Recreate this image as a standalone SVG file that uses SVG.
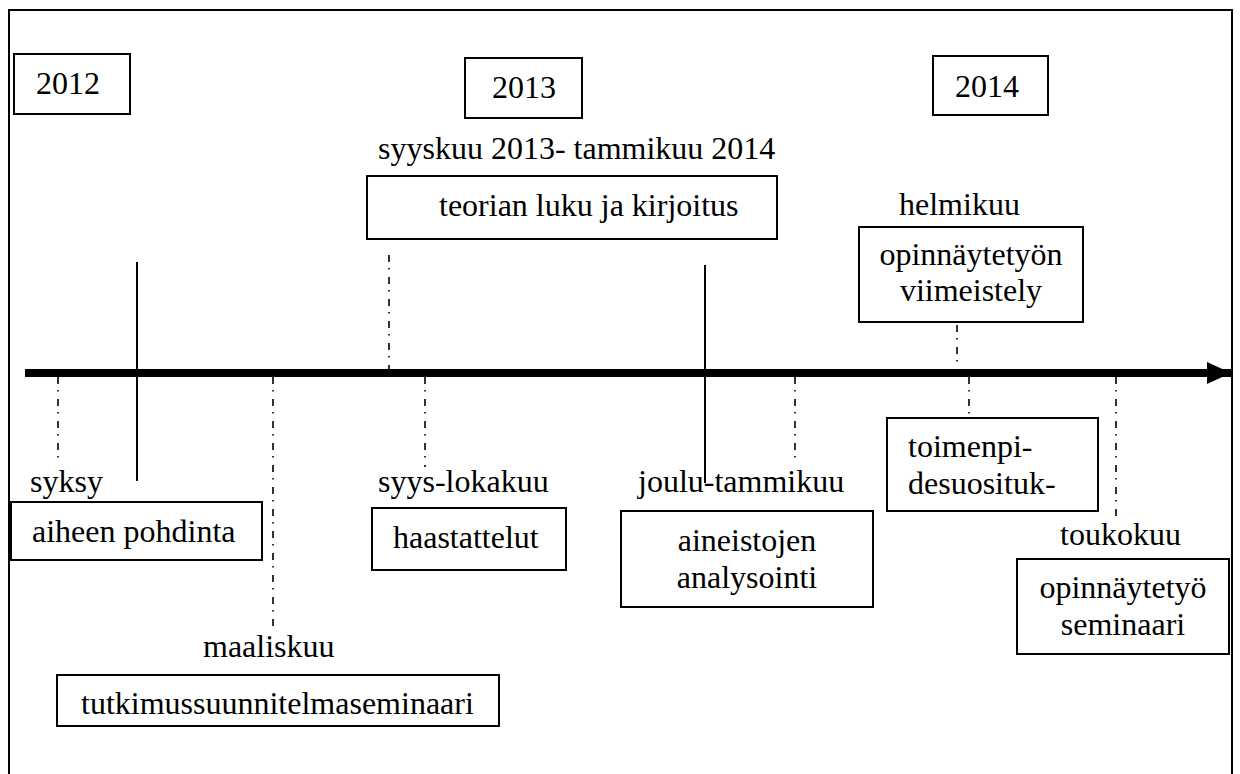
<svg xmlns="http://www.w3.org/2000/svg" width="1240" height="774" viewBox="0 0 1240 774">
  <style>
    text { font-family: "Liberation Serif", "Times New Roman", serif; font-size: 32px; fill: #000; }
    .box { fill: #fff; stroke: #000; stroke-width: 2; }
    .dd { stroke: #000; stroke-width: 1.6; fill: none; stroke-dasharray: 7 6 1.5 7.5; }
    .solid { stroke: #000; stroke-width: 2; fill: none; }
    .mid { text-anchor: middle; }
  </style>
  <defs>
    <marker id="head" markerUnits="userSpaceOnUse" markerWidth="26" markerHeight="24" refX="24" refY="11" orient="auto">
      <path d="M0,0 L24,11 L0,22 Z" fill="#000"/>
    </marker>
  </defs>

  <rect width="1240" height="774" fill="#fff"/>
  <!-- outer frame -->
  <rect x="9" y="10" width="1223" height="790" fill="none" stroke="#000" stroke-width="2"/>

  <!-- connectors: time axis and tick lines -->
  <g id="connectors">
    <line x1="25" y1="373" x2="1231" y2="373" stroke="#000" stroke-width="8" marker-end="url(#head)"/>
    <line class="solid" x1="137" y1="262" x2="137" y2="481"/>
    <line class="solid" x1="705" y1="265" x2="705" y2="483"/>
    <line class="dd" x1="58" y1="377" x2="58" y2="458"/>
    <line class="dd" x1="273" y1="377" x2="273" y2="630"/>
    <line class="dd" x1="389" y1="255" x2="389" y2="369"/>
    <line class="dd" x1="425" y1="377" x2="425" y2="467"/>
    <line class="dd" x1="795" y1="377" x2="795" y2="463"/>
    <line class="dd" x1="957" y1="325" x2="957" y2="366"/>
    <line class="dd" x1="969" y1="377" x2="969" y2="418"/>
    <line class="dd" x1="1116" y1="377" x2="1116" y2="517"/>
  </g>

  <!-- year markers -->
  <g id="year-2012">
    <rect class="box" x="14" y="54" width="116" height="60"/>
    <text x="36" y="94">2012</text>
  </g>
  <g id="year-2013">
    <rect class="box" x="465" y="58" width="117" height="60"/>
    <text x="492" y="98">2013</text>
  </g>
  <g id="year-2014">
    <rect class="box" x="933" y="56" width="115" height="59"/>
    <text x="955" y="97">2014</text>
  </g>

  <!-- phases -->
  <g id="teoria">
    <text x="378" y="159">syyskuu 2013- tammikuu 2014</text>
    <rect class="box" x="367" y="176" width="410" height="63"/>
    <text x="439" y="216">teorian luku ja kirjoitus</text>
  </g>
  <g id="viimeistely">
    <text x="899" y="215">helmikuu</text>
    <rect class="box" x="859" y="227" width="224" height="95"/>
    <text class="mid" x="971" y="265">opinnäytetyön</text>
    <text class="mid" x="971" y="301">viimeistely</text>
  </g>
  <g id="aihe">
    <text x="30" y="492">syksy</text>
    <rect class="box" x="11" y="502" width="251" height="58"/>
    <text x="32" y="542">aiheen pohdinta</text>
  </g>
  <g id="haastattelut">
    <text x="378" y="492">syys-lokakuu</text>
    <rect class="box" x="372" y="508" width="194" height="62"/>
    <text x="393" y="548">haastattelut</text>
  </g>
  <g id="analysointi">
    <text x="638" y="492">joulu-tammikuu</text>
    <rect class="box" x="621" y="511" width="252" height="96"/>
    <text class="mid" x="747" y="551">aineistojen</text>
    <text class="mid" x="747" y="588">analysointi</text>
  </g>
  <g id="suositukset">
    <rect class="box" x="887" y="418" width="211" height="93"/>
    <text x="908" y="457">toimenpi-</text>
    <text x="908" y="494">desuosituk-</text>
  </g>
  <g id="seminaari">
    <text x="1060" y="545">toukokuu</text>
    <rect class="box" x="1017" y="559" width="212" height="95"/>
    <text class="mid" x="1123" y="598">opinnäytetyö</text>
    <text class="mid" x="1123" y="635">seminaari</text>
  </g>
  <g id="suunnitelma">
    <text x="203" y="657">maaliskuu</text>
    <rect class="box" x="57" y="675" width="442" height="51"/>
    <text x="81" y="714">tutkimussuunnitelmaseminaari</text>
  </g>
</svg>
